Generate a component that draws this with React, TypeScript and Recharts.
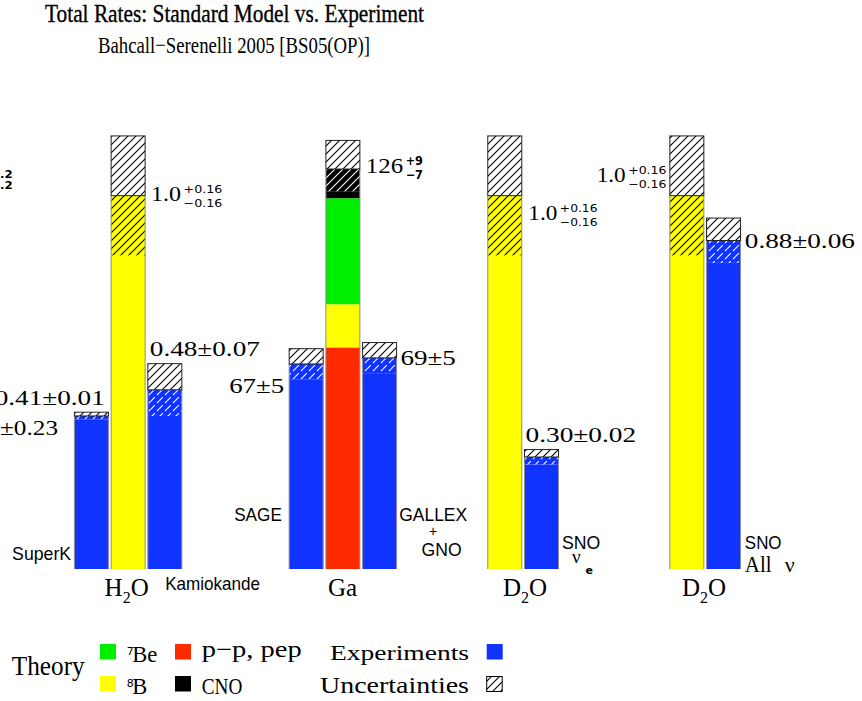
import React from "react";
import { ComposedChart, Bar, XAxis, YAxis, LabelList } from "recharts";

const WIDTH = 862;
const HEIGHT = 701;

const BLUE = "#1133ff";
const YELLOW = "#ffff00";
const GREEN = "#00ee00";
const RED = "#ff2a00";
const BLACK = "#000000";

const SERIF = "'Liberation Serif', 'Times New Roman', serif";
const SANS = "'Liberation Sans', Arial, sans-serif";
const SMALL = "'DejaVu Sans', sans-serif";

// ---- values ----
const groups = ["H₂O", "Ga", "D₂O", "D₂O"];

// experiments, left to right
const expNames = ["SuperK", "Kamiokande", "SAGE", "GALLEX+GNO", "SNO νe", "SNO All ν"];
const expValues = [0.41, 0.48, 67, 69, 0.3, 0.88];
const expErrors = [0.01, 0.07, 5, 5, 0.02, 0.06];
const expUnits = ["ssm", "ssm", "snu", "snu", "ssm", "ssm"];

// 8B flux in the water / heavy water columns, units of the SSM
const b8Value = 1.0;
const b8ErrUp = 0.16;
const b8ErrDown = 0.16;

// gallium SSM rate by source (SNU)
const gaSources = ["p−p, pep", "⁸B", "⁷Be", "CNO"];
const gaRates = [69.8, 13.6, 33.4, 9.2];
const gaErrUp = 9;
const gaErrDown = 7;

// the figure draws gallium on its own scale: SNU per unit of the SSM axis
const GA_THEORY_SNU_PER_UNIT = 117.6;
const GA_EXP_SNU_PER_UNIT = 122;

// which quantity each bar shows, left to right
type Col = { kind: "exp"; exp: number } | { kind: "b8" } | { kind: "ga" };
const columns: Col[] = [
  { kind: "exp", exp: 0 }, { kind: "b8" }, { kind: "exp", exp: 1 },
  { kind: "exp", exp: 2 }, { kind: "ga" }, { kind: "exp", exp: 3 },
  { kind: "b8" }, { kind: "exp", exp: 4 },
  { kind: "b8" }, { kind: "exp", exp: 5 },
];

// ---- layout ----
// bar centres along the x axis, in bar widths
const slots = [0, 1, 2, 5.85, 6.85, 7.85, 11.26, 12.26, 16.22, 17.22];
const groupSlots = [0.95, 6.83, 11.8, 16.68];

const H_WHITE = "url(#hatch-white)";
const H_YELLOW = "url(#hatch-yellow)";
const H_BLUE = "url(#hatch-blue)";
const H_BLACK = "url(#hatch-black)";

const rows = columns.map((c, i) => {
  let segs = [0, 0, 0, 0, 0, 0];
  let fills = [BLUE, BLUE, BLUE, BLUE, H_BLUE, H_WHITE];
  if (c.kind === "exp") {
    const k = expUnits[c.exp] === "snu" ? 1 / GA_EXP_SNU_PER_UNIT : 1;
    const v = expValues[c.exp] * k;
    const e = expErrors[c.exp] * k;
    segs = [v - e, 0, 0, 0, e, e];
  } else if (c.kind === "b8") {
    segs = [b8Value - b8ErrDown, 0, 0, 0, b8ErrDown, b8ErrUp];
    fills = [YELLOW, YELLOW, YELLOW, YELLOW, H_YELLOW, H_WHITE];
  } else {
    const k = 1 / GA_THEORY_SNU_PER_UNIT;
    segs = [
      gaRates[0] * k, gaRates[1] * k, gaRates[2] * k,
      (gaRates[3] - gaErrDown) * k, gaErrDown * k, gaErrUp * k,
    ];
    fills = [RED, YELLOW, GREEN, BLACK, H_BLACK, H_WHITE];
  }
  return { x: slots[i], s0: segs[0], s1: segs[1], s2: segs[2], s3: segs[3], s4: segs[4], s5: segs[5], fills };
});

// value labels: placement next to the top of each bar
const valueSpots = [
  { edge: "R", dx: -3.7, dy: -7, anchor: "end", mainW: 110 },
  { edge: "R", dx: 6, dy: 65, anchor: "start", mainW: 30, supW: 38.7 },
  { edge: "L", dx: 2, dy: -7.3, anchor: "start", mainW: 110 },
  { edge: "L", dx: -5, dy: 44.3, anchor: "end", mainW: 55 },
  { edge: "R", dx: 6, dy: 32.3, anchor: "start", mainW: 37.3, supW: 17.3 },
  { edge: "R", dx: 4, dy: 22.7, anchor: "start", mainW: 55.3 },
  { edge: "R", dx: 6.6, dy: 84, anchor: "start", mainW: 29, supW: 37.6 },
  { edge: "L", dx: 1, dy: -7.6, anchor: "start", mainW: 110.7 },
  { edge: "L", dx: -3.3, dy: 46, anchor: "end", mainW: 29, supW: 38.4 },
  { edge: "R", dx: 4.3, dy: 30, anchor: "start", mainW: 110 },
];

// experiment names: pieces placed around the foot of each bar
type Piece = { t: string; edge: "L" | "R"; dx: number; dy: number; anchor?: string; w?: number; font?: string; size?: number; weight?: number };
const nameSpots: Piece[][] = [
  [{ t: "SuperK", edge: "L", dx: -3.3, dy: -9, anchor: "end", w: 59 }],
  [{ t: "Kamiokande", edge: "R", dx: -16.7, dy: 21, w: 95 }],
  [{ t: "SAGE", edge: "L", dx: -7.3, dy: -48.3, anchor: "end", w: 47.7 }],
  [
    { t: "GALLEX", edge: "R", dx: 2.6, dy: -48.3, w: 68 },
    { t: "+", edge: "R", dx: 36.6, dy: -33, anchor: "middle", size: 14 },
    { t: "GNO", edge: "R", dx: 25, dy: -13, w: 40 },
  ],
  [
    { t: "SNO", edge: "R", dx: 3.4, dy: -19.7, w: 38.3 },
    { t: "ν", edge: "R", dx: 13.4, dy: -5.7, font: SERIF, size: 19 },
    { t: "e", edge: "R", dx: 27, dy: 5.3, font: SMALL, size: 11, weight: 700 },
  ],
  [
    { t: "SNO", edge: "R", dx: 4.3, dy: -19.7, w: 36.7 },
    { t: "All", edge: "R", dx: 4.3, dy: 2.7, font: SERIF, size: 24, w: 26.7 },
    { t: "ν", edge: "R", dx: 44.3, dy: 2.7, font: SERIF, size: 22 },
  ],
];

function Segment(props: any) {
  const { x, y, width, height, payload, seg } = props;
  if (!(height > 0.05) || !isFinite(y)) return null;
  const fill = payload.fills[seg];
  if (seg === 5) {
    return <rect x={x} y={y} width={width} height={height} fill={fill} stroke="#222" strokeWidth={1} />;
  }
  return (
    <g>
      <rect x={x} y={y} width={width} height={height} fill={fill} />
      <line x1={x} x2={x} y1={y} y2={y + height} stroke="#8c8c8c" strokeWidth={1} />
      <line x1={x + width} x2={x + width} y1={y} y2={y + height} stroke="#8c8c8c" strokeWidth={1} />
    </g>
  );
}

function box(props: any) {
  const vb = props.viewBox || {};
  const x = Number(vb.x ?? props.x);
  const y = Number(vb.y ?? props.y);
  const w = Number(vb.width ?? props.width);
  const h = Number(vb.height ?? props.height);
  return { x, y, w, h };
}

function valueLabel(props: any) {
  const i = props.index;
  const c = columns[i];
  const spot = valueSpots[i];
  if (!c || !spot) return null;
  const { x, y, w } = box(props);
  let main = "";
  let sup = "";
  let sub = "";
  let supSize = 10.5;
  let supWeight = 400;
  if (c.kind === "exp") {
    const snu = expUnits[c.exp] === "snu";
    main = snu
      ? `${expValues[c.exp]}±${expErrors[c.exp]}`
      : `${expValues[c.exp].toFixed(2)}±${expErrors[c.exp].toFixed(2)}`;
  } else if (c.kind === "b8") {
    main = b8Value.toFixed(1);
    sup = `+${b8ErrUp.toFixed(2)}`;
    sub = `−${b8ErrDown.toFixed(2)}`;
  } else {
    main = String(Math.round(gaRates.reduce((a, b) => a + b, 0)));
    sup = `+${gaErrUp}`;
    sub = `−${gaErrDown}`;
    supSize = 12;
    supWeight = 700;
  }
  const gap = 2.5;
  const x0 = (spot.edge === "R" ? x + w : x) + spot.dx;
  const total = spot.mainW + (sup ? gap + (spot.supW || 0) : 0);
  const left = spot.anchor === "end" ? x0 - total : x0;
  const base = y + spot.dy;
  return (
    <g key={`v${i}`}>
      <text x={left} y={base} fontSize={21} fontFamily={SERIF} fill="#000"
        textLength={spot.mainW} lengthAdjust="spacingAndGlyphs">{main}</text>
      {sup && (
        <text x={left + spot.mainW + gap} y={base - 7.5} fontSize={supSize} fontWeight={supWeight}
          fontFamily={SMALL} fill="#000" textLength={spot.supW} lengthAdjust="spacingAndGlyphs">{sup}</text>
      )}
      {sub && (
        <text x={left + spot.mainW + gap} y={base + 6.3} fontSize={supSize} fontWeight={supWeight}
          fontFamily={SMALL} fill="#000" textLength={spot.supW} lengthAdjust="spacingAndGlyphs">{sub}</text>
      )}
    </g>
  );
}

function nameLabel(props: any) {
  const i = props.index;
  const c = columns[i];
  if (!c || c.kind !== "exp") return null;
  const pieces = nameSpots[c.exp];
  const { x, y, w, h } = box(props);
  const bottom = y + h;
  return (
    <g key={`n${i}`}>
      {pieces.map((p, j) => (
        <text key={j} x={(p.edge === "R" ? x + w : x) + p.dx} y={bottom + p.dy}
          textAnchor={(p.anchor as any) || "start"} fontFamily={p.font || SANS}
          fontSize={p.size || 18.5} fontWeight={p.weight || 400} fill="#000"
          textLength={p.w} lengthAdjust={p.w ? "spacingAndGlyphs" : undefined}>{p.t}</text>
      ))}
    </g>
  );
}

function GroupTick(props: any) {
  const { x, y, index } = props;
  const name = groups[index] || "";
  const parts = name.split("₂");
  return (
    <text x={x} y={y - 3} textAnchor="middle" fontFamily={SERIF} fontSize={25} fill="#000">
      {parts.length > 1 ? (
        <>
          <tspan>{parts[0]}</tspan>
          <tspan dy={7} fontSize={16}>2</tspan>
          <tspan dy={-7}>{parts[1]}</tspan>
        </>
      ) : name}
    </text>
  );
}

function Hatch({ id, bg, line, dash }: { id: string; bg: string; line: string; dash?: string }) {
  return (
    <pattern id={id} patternUnits="userSpaceOnUse" width={8} height={8}>
      <rect width={8} height={8} fill={bg} />
      <path d="M-2,2 L2,-2 M0,8 L8,0 M6,10 L10,6" stroke={line} strokeWidth={1.1} strokeDasharray={dash} />
    </pattern>
  );
}

// legend entries
const theoryLegend = [
  { name: gaSources[2], color: GREEN, col: 0, row: 0 },
  { name: gaSources[0], color: RED, col: 1, row: 0 },
  { name: gaSources[1], color: YELLOW, col: 0, row: 1 },
  { name: gaSources[3], color: BLACK, col: 1, row: 1 },
];

function LegendName({ name, x, y }: { name: string; x: number; y: number }) {
  const sup = name[0] === "⁷" ? "7" : name[0] === "⁸" ? "8" : "";
  if (sup) {
    return (
      <g>
        <text x={x} y={y - 6.5} fontFamily={SMALL} fontSize={11} fill="#000">{sup}</text>
        <text x={x + 5.5} y={y} fontFamily={SERIF} fontSize={22.5} fill="#000">{name.slice(1)}</text>
      </g>
    );
  }
  const isP = name.startsWith("p");
  return (
    <text x={x} y={isP ? y - 5 : y} fontFamily={SERIF} fontSize={isP ? 23 : 22.5} fill="#000"
      textLength={isP ? 100 : 40.6} lengthAdjust="spacingAndGlyphs">{name}</text>
  );
}

export default function App() {
  return (
    <div style={{ position: "absolute", left: 0, top: 0, width: WIDTH, height: HEIGHT, background: "#fff" }}>
      <ComposedChart width={WIDTH} height={HEIGHT} data={rows}
        margin={{ top: 121, right: 3, bottom: 92, left: 0 }}>
        <defs>
          <Hatch id="hatch-white" bg="#fff" line="#000" />
          <Hatch id="hatch-yellow" bg={YELLOW} line="#000" />
          <Hatch id="hatch-blue" bg={BLUE} line="#fff" dash="4 3" />
          <Hatch id="hatch-black" bg={BLACK} line="#fff" />
        </defs>
        <XAxis xAxisId={0} dataKey="x" type="number" domain={[-2.5, 20.9]} hide />
        <XAxis xAxisId="groups" dataKey="x" type="number" domain={[-2.5, 20.9]}
          ticks={groupSlots} interval={0} axisLine={false} tickLine={false}
          tickSize={0} tickMargin={0} height={40} tick={<GroupTick />} />
        <YAxis type="number" domain={[0, 1.2]} hide />
        {[0, 1, 2, 3, 4, 5].map((k) => (
          <Bar key={k} dataKey={`s${k}`} stackId="rate" barSize={34} isAnimationActive={false}
            shape={(p: any) => <Segment {...p} seg={k} />}>
            {k === 0 && <LabelList dataKey="s0" content={nameLabel} />}
            {k === 5 && <LabelList dataKey="s5" content={valueLabel} />}
          </Bar>
        ))}

        {/* titles */}
        <text x={45} y={22} fontFamily={SERIF} fontSize={25.5} fill="#000" stroke="#000" strokeWidth={0.35}
          textLength={379} lengthAdjust="spacingAndGlyphs">Total Rates: Standard Model vs. Experiment</text>
        <text x={98} y={53} fontFamily={SERIF} fontSize={24} fill="#000"
          textLength={272} lengthAdjust="spacingAndGlyphs">Bahcall−Serenelli 2005 [BS05(OP)]</text>

        {/* remnants of the chlorine column, cut by the left edge */}
        <text x={0} y={178.3} fontFamily={SMALL} fontSize={10} fontWeight={700} fill="#000"
          textLength={12.7} lengthAdjust="spacingAndGlyphs">.2</text>
        <text x={0} y={188.6} fontFamily={SMALL} fontSize={10} fontWeight={700} fill="#000"
          textLength={12.7} lengthAdjust="spacingAndGlyphs">.2</text>
        <text x={0} y={435} fontFamily={SERIF} fontSize={21} fill="#000"
          textLength={58} lengthAdjust="spacingAndGlyphs">±0.23</text>

        {/* legend */}
        <text x={11.7} y={675} fontFamily={SERIF} fontSize={28} fill="#000"
          textLength={73} lengthAdjust="spacingAndGlyphs">Theory</text>
        {theoryLegend.map((e, i) => {
          const sx = e.col === 0 ? 100 : 175;
          const sy = e.row === 0 ? 644 : 676;
          return (
            <g key={i}>
              <rect x={sx} y={sy} width={16} height={15.5} fill={e.color} />
              <LegendName name={e.name} x={sx + 26.7} y={sy + 17.5} />
            </g>
          );
        })}
        <text x={469} y={659.5} textAnchor="end" fontFamily={SERIF} fontSize={22} fill="#000"
          textLength={139} lengthAdjust="spacingAndGlyphs">Experiments</text>
        <rect x={486.7} y={644} width={16} height={15.5} fill={BLUE} />
        <text x={469} y={693} textAnchor="end" fontFamily={SERIF} fontSize={24} fill="#000"
          textLength={149} lengthAdjust="spacingAndGlyphs">Uncertainties</text>
        <rect x={486.7} y={676.5} width={15.5} height={15} fill={H_WHITE} stroke="#000" strokeWidth={1} />
      </ComposedChart>
    </div>
  );
}
